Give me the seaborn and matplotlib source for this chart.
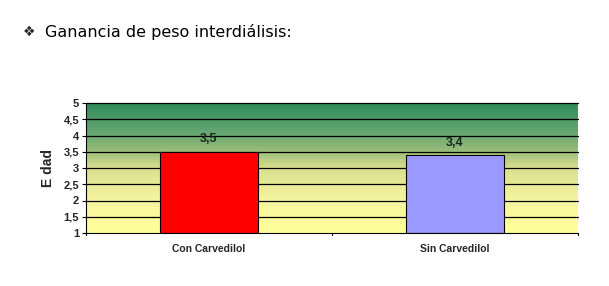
import matplotlib
matplotlib.use("Agg")
import matplotlib.pyplot as plt
import seaborn as sns
import numpy as np
import pandas as pd
from matplotlib.colors import LinearSegmentedColormap

categories = ["Con Carvedilol", "Sin Carvedilol"]
values = [3.5, 3.4]
value_labels = ["3,5", "3,4"]
bar_colors = ["#ff0000", "#9999ff"]
yticks = [1, 1.5, 2, 2.5, 3, 3.5, 4, 4.5, 5]
ytick_labels = ["1", "1,5", "2", "2,5", "3", "3,5", "4", "4,5", "5"]

sns.set_style("white")
plt.rcParams['font.family'] = ['Liberation Sans', 'DejaVu Sans']

fig = plt.figure(figsize=(6.09, 2.86), dpi=100)
ax = fig.add_axes([86/609, 1-233/286, (578-86)/609, (233-103)/286])

df = pd.DataFrame({"cat": categories, "val": values})
ylo = 1
ax.set_ylim(1, 5)
ax.set_xlim(-0.5, 1.5)

cmap = LinearSegmentedColormap.from_list(
    "bg",
    [(0.0, "#ffff98"), (0.25, "#f6f5a0"), (0.5, "#d8e08e"), (0.625, "#9cbe7a"),
     (0.75, "#6caa74"), (1.0, "#2f8c5c")], N=256)
grad = np.linspace(0, 1, 256).reshape(-1, 1)
ax.imshow(grad, aspect="auto", cmap=cmap, origin="lower",
          extent=[-0.5, 1.5, 1, 5], zorder=0)

for y in yticks[1:]:
    ax.axhline(y, color="black", lw=0.9, zorder=1, clip_on=False)

bars = ax.bar(range(len(categories)), [v - ylo for v in values], bottom=ylo,
              width=0.4, color=bar_colors, edgecolor="black", linewidth=0.8, zorder=2)

for i, (v, lab) in enumerate(zip(values, value_labels)):
    ax.text(i, v + 0.2, lab, ha="center", va="bottom", fontsize=9, fontweight="bold", color="#1a2a1a")

ax.set_yticks(yticks)
ax.set_yticklabels(ytick_labels, fontsize=8, fontweight="bold")
ax.set_xticks([0, 1])
ax.set_xticklabels(categories, fontsize=7.5, fontweight="bold")
ax.tick_params(axis="x", length=0, pad=8)
ax.tick_params(axis="y", length=3, width=0.8, direction="out", color="black", left=True, pad=2)
for xb in [-0.5, 0.5, 1.5]:
    ax.plot([xb, xb], [1, 0.93], color="black", lw=0.8, clip_on=False, zorder=3)

for s in ["top", "right"]:
    ax.spines[s].set_visible(False)
for s in ["left", "bottom"]:
    ax.spines[s].set_color("black")
    ax.spines[s].set_linewidth(0.8)

ax.set_ylabel("E dad", fontsize=10, fontweight="bold", labelpad=6)

fig.text(23/609, 1-32/286, "\u2756", fontsize=10, va="center", ha="left", family="DejaVu Sans")
fig.text(45/609, 1-32/286, "Ganancia de peso interdiálisis:", fontsize=11.5, va="center", ha="left",
         family="DejaVu Sans", color="black")

fig.savefig("out.png", dpi=100)
